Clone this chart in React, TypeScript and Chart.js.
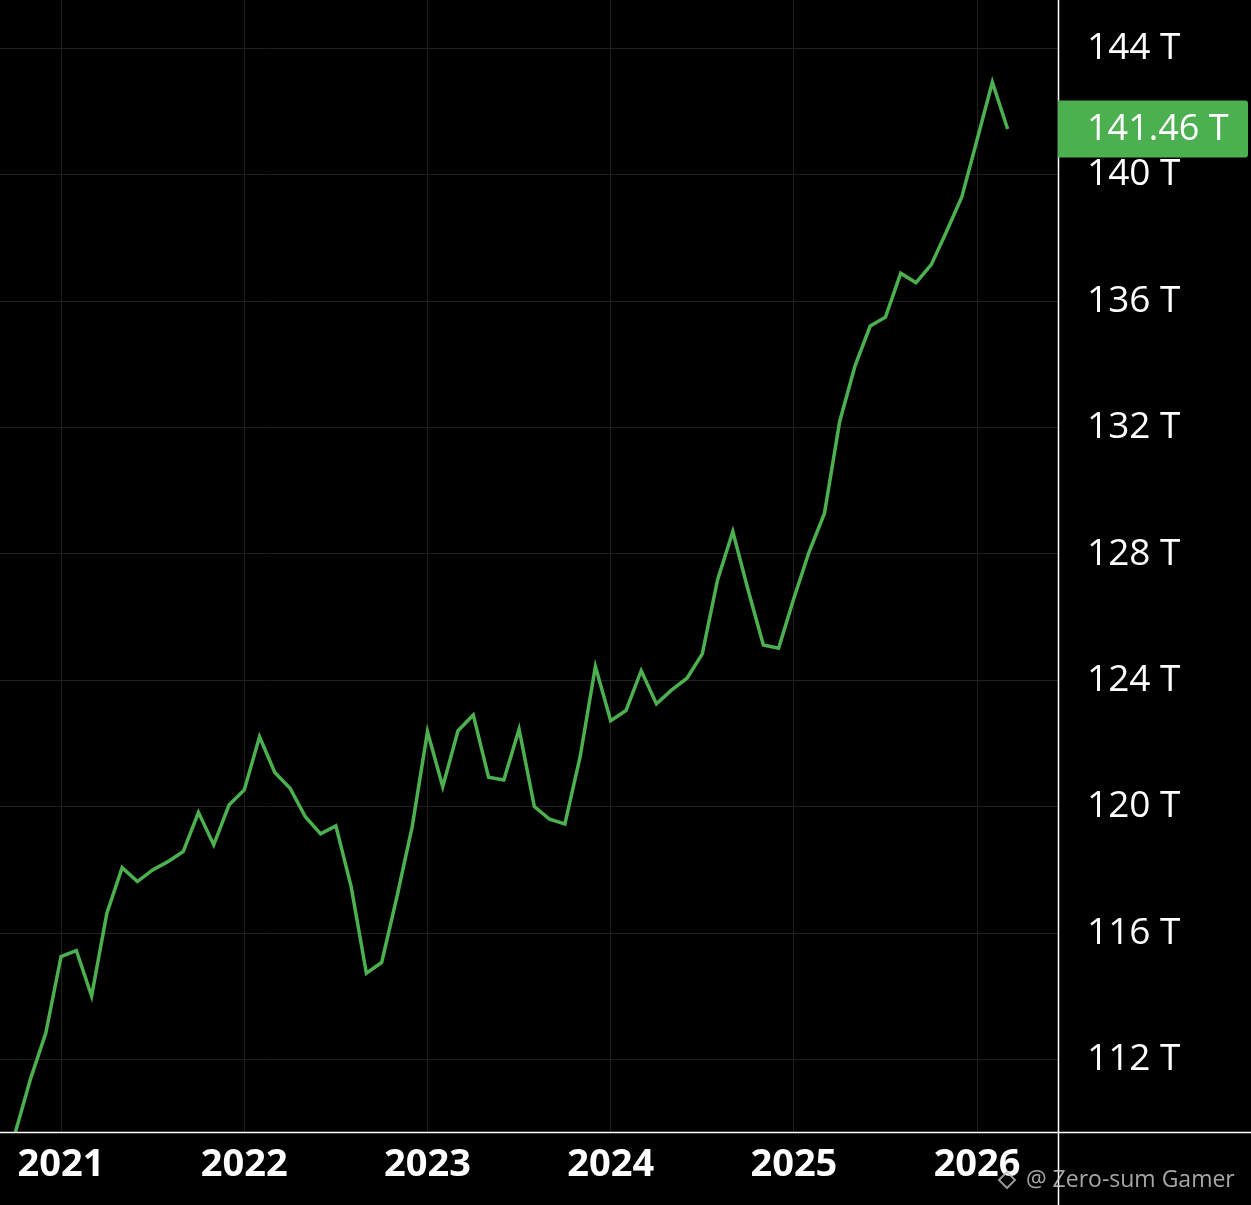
import React, { useEffect, useRef } from "react";
import { Chart, registerables, Plugin } from "chart.js";

Chart.register(...registerables);

// monthly points, Oct 2020 .. Mar 2026
const months: string[] = [
  "2020-10", "2020-11", "2020-12",
  "2021-01", "2021-02", "2021-03", "2021-04", "2021-05", "2021-06",
  "2021-07", "2021-08", "2021-09", "2021-10", "2021-11", "2021-12",
  "2022-01", "2022-02", "2022-03", "2022-04", "2022-05", "2022-06",
  "2022-07", "2022-08", "2022-09", "2022-10", "2022-11", "2022-12",
  "2023-01", "2023-02", "2023-03", "2023-04", "2023-05", "2023-06",
  "2023-07", "2023-08", "2023-09", "2023-10", "2023-11", "2023-12",
  "2024-01", "2024-02", "2024-03", "2024-04", "2024-05", "2024-06",
  "2024-07", "2024-08", "2024-09", "2024-10", "2024-11", "2024-12",
  "2025-01", "2025-02", "2025-03", "2025-04", "2025-05", "2025-06",
  "2025-07", "2025-08", "2025-09", "2025-10", "2025-11", "2025-12",
  "2026-01", "2026-02", "2026-03",
];

// values in trillions
const values: number[] = [
  109.7, 111.4, 112.85,
  115.27, 115.46, 114.02, 116.64, 118.08, 117.64,
  118.01, 118.27, 118.59, 119.83, 118.8, 120.06,
  120.54, 122.22, 121.09, 120.59, 119.69, 119.15,
  119.4, 117.48, 114.74, 115.08, 117.16, 119.38,
  122.38, 120.64, 122.41, 122.91, 120.94, 120.85,
  122.46, 120.01, 119.61, 119.46, 121.59, 124.44,
  122.73, 123.05, 124.31, 123.26, 123.7, 124.07,
  124.84, 127.18, 128.71, 126.86, 125.12, 125.02,
  126.6, 128.07, 129.28, 132.19, 133.94, 135.21,
  135.49, 136.88, 136.58, 137.15, 138.2, 139.29,
  141.1, 142.92, 141.44,
];

const yearTicks: number[] = [2021, 2022, 2023, 2024, 2025, 2026];
const valueTicks: number[] = [112, 116, 120, 124, 128, 132, 136, 140, 144];
const lastValueLabel = "141.46 T";
const watermark = "@ Zero-sum Gamer";

const GREEN = "#4caf50";
const FONT = "'Open Sans', 'Noto Sans', sans-serif";

const monthIndex = (m: string) => {
  const [y, mo] = m.split("-").map(Number);
  return (y - 2021) * 12 + (mo - 1);
};

const points = months.map((m, i) => ({ x: monthIndex(m), y: values[i] }));

const decorPlugin: Plugin = {
  id: "decor",
  beforeDraw(chart) {
    const { ctx, width, height } = chart;
    ctx.save();
    ctx.fillStyle = "#000";
    ctx.fillRect(0, 0, width, height);
    ctx.restore();
  },
  afterDraw(chart) {
    const { ctx, width, height, chartArea } = chart;
    ctx.save();
    // axis borders
    ctx.strokeStyle = "#ffffff";
    ctx.lineWidth = 1.5;
    ctx.beginPath();
    ctx.moveTo(chartArea.right + 0.5, 0);
    ctx.lineTo(chartArea.right + 0.5, height);
    ctx.moveTo(0, chartArea.bottom + 0.5);
    ctx.lineTo(width, chartArea.bottom + 0.5);
    ctx.stroke();

    // last value tag
    const yScale = chart.scales.y;
    const yc = yScale.getPixelForValue(values[values.length - 1]);
    const bx = chartArea.right;
    const bw = 190;
    const bh = 57;
    ctx.fillStyle = GREEN;
    ctx.beginPath();
    ctx.roundRect(bx, yc - bh / 2, bw, bh, [0, 3, 3, 0]);
    ctx.fill();
    ctx.fillStyle = "#ffffff";
    ctx.font = `36px ${FONT}`;
    ctx.textBaseline = "middle";
    ctx.textAlign = "left";
    ctx.fillText(lastValueLabel, bx + 29, yc + 1);

    // watermark
    ctx.globalAlpha = 0.8;
    ctx.strokeStyle = "#bdbdbd";
    ctx.lineWidth = 2;
    const ix = 1007;
    const iy = 1182;
    ctx.beginPath();
    ctx.moveTo(ix, iy - 10);
    ctx.lineTo(ix + 8, iy - 2);
    ctx.lineTo(ix, iy + 6);
    ctx.lineTo(ix - 8, iy - 2);
    ctx.closePath();
    ctx.stroke();
    ctx.fillStyle = "#d0d0d0";
    ctx.font = `23px ${FONT}`;
    ctx.textBaseline = "middle";
    ctx.fillText(watermark, 1026, 1180);
    ctx.restore();
  },
};

const App: React.FC = () => {
  const chartRef = useRef<HTMLCanvasElement>(null);

  useEffect(() => {
    document.body.style.margin = "0";
    document.body.style.background = "#000";
    let chartInstance: Chart | null = null;
    if (chartRef.current) {
      chartInstance = new Chart(chartRef.current, {
        type: "line",
        data: {
          datasets: [
            {
              data: points,
              borderColor: GREEN,
              borderWidth: 3.5,
              pointRadius: 0,
              tension: 0,
              fill: false,
            },
          ],
        },
        options: {
          animation: false,
          responsive: true,
          maintainAspectRatio: false,
          layout: { padding: 0 },
          plugins: {
            legend: { display: false },
            tooltip: { enabled: false },
          },
          scales: {
            x: {
              type: "linear",
              position: "bottom",
              min: -4,
              max: 65.3,
              afterBuildTicks: (scale) => {
                scale.ticks = yearTicks.map((y) => ({ value: (y - 2021) * 12 }));
              },
              afterFit: (scale: any) => {
                scale.height = 73;
                scale.paddingLeft = 0;
                scale.paddingRight = 0;
              },
              grid: {
                color: "#1f1f1f",
                lineWidth: 1,
                drawTicks: false,
              },
              border: { display: false },
              ticks: {
                color: "#ffffff",
                padding: 10,
                maxRotation: 0,
                autoSkip: false,
                font: { family: FONT, size: 38, weight: "bold" },
                callback: (v) => String(2021 + Number(v) / 12),
              },
            },
            y: {
              type: "linear",
              position: "right",
              min: 109.72,
              max: 145.52,
              afterBuildTicks: (scale) => {
                scale.ticks = valueTicks.map((v) => ({ value: v }));
              },
              afterFit: (scale: any) => {
                scale.width = 193;
                scale.paddingTop = 0;
                scale.paddingBottom = 0;
              },
              grid: {
                color: "#1f1f1f",
                lineWidth: 1,
                drawTicks: false,
              },
              border: { display: false },
              ticks: {
                color: "#ffffff",
                padding: 29,
                autoSkip: false,
                font: { family: FONT, size: 37 },
                callback: (v) => `${v} T`,
              },
            },
          },
        },
        plugins: [decorPlugin],
      });
    }
    return () => {
      if (chartInstance) {
        chartInstance.destroy();
      }
    };
  }, []);

  return (
    <div style={{ width: 1251, height: 1205, position: "relative", background: "#000" }}>
      <canvas ref={chartRef} />
    </div>
  );
};

export default App;
